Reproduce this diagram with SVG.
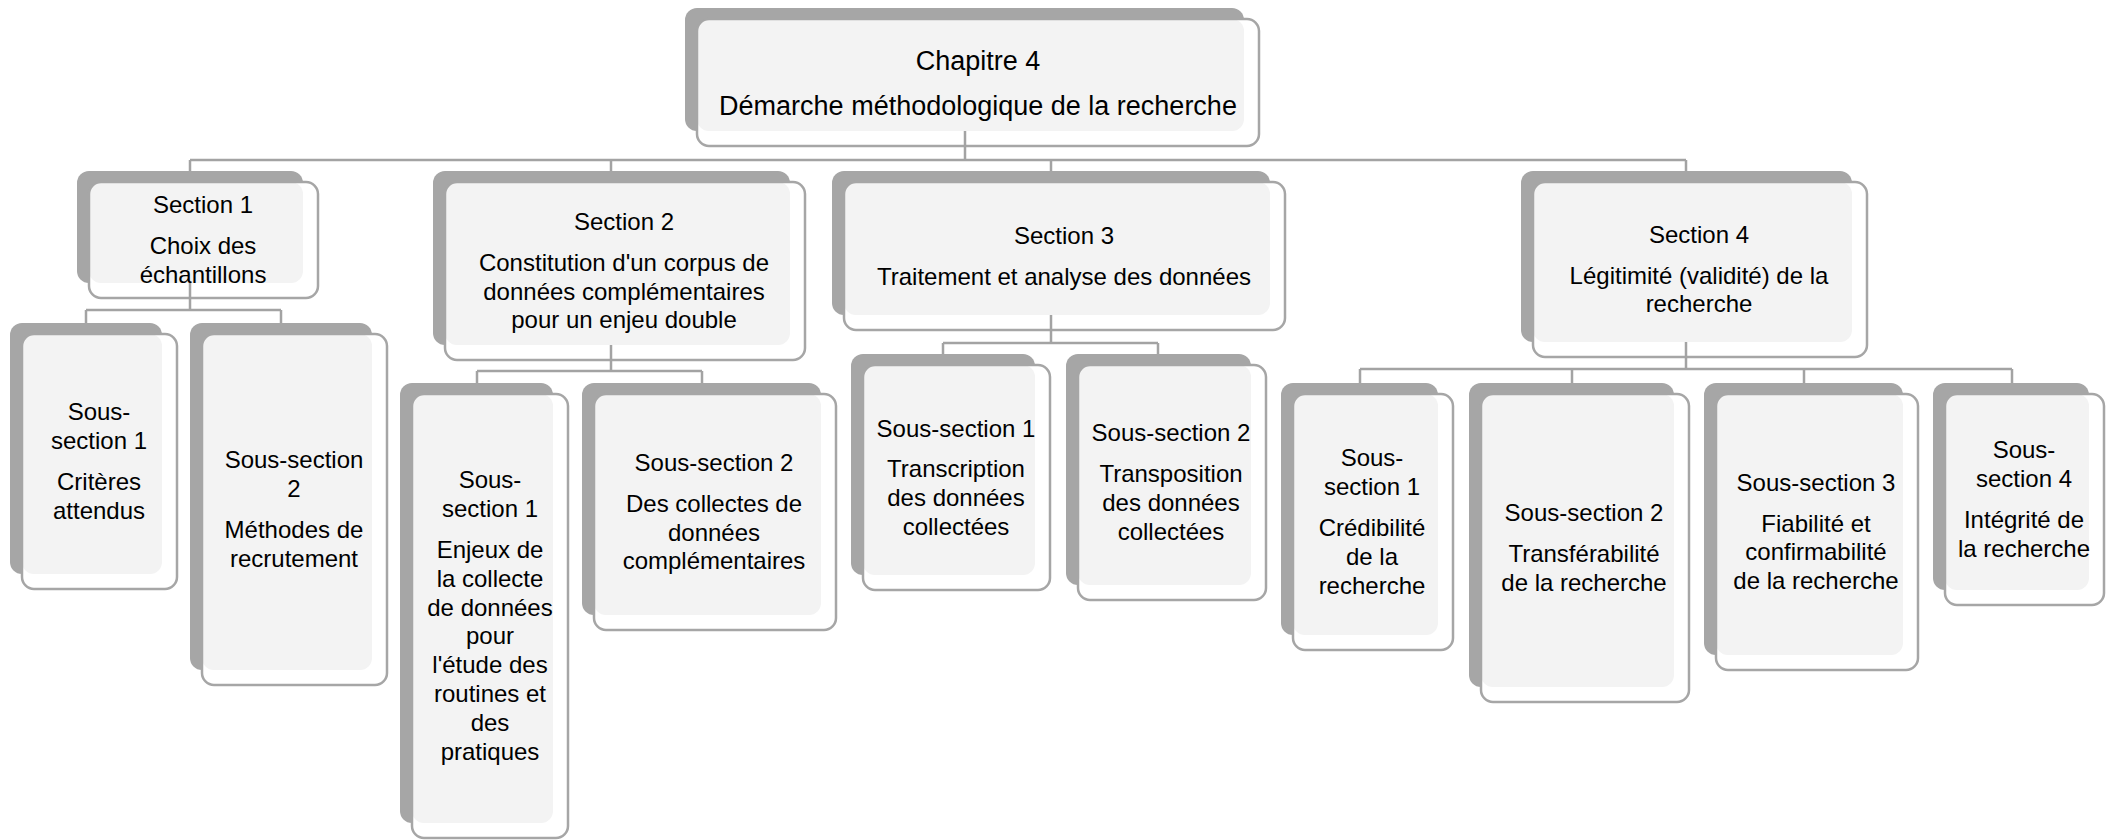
<svg xmlns="http://www.w3.org/2000/svg" width="2114" height="840" viewBox="0 0 2114 840">
  <style>
    .sh { fill: #a6a6a6; }
    .bg { fill: #ffffff; }
    .fl { fill: #f3f3f3; }
    .ol { fill: none; stroke: #a6a6a6; stroke-width: 2.5; }
    .cn { fill: none; stroke: #a3a3a3; stroke-width: 2.5; }
    text { font-family: "Liberation Sans", Arial, sans-serif; font-size: 24px; fill: #000; text-anchor: middle; }
    .big { font-size: 27px; }
  </style>
  <rect width="2114" height="840" fill="#ffffff"/>

  <!-- Chapter -->
  <g id="chapitre">
    <rect class="sh" x="685" y="8" width="559" height="123" rx="12"/>
    <rect class="bg" x="697" y="19" width="562" height="127" rx="12"/>
    <rect class="fl" x="697" y="19" width="547" height="112" rx="12"/>
    <rect class="ol" x="697" y="19" width="562" height="127" rx="12"/>
    <text class="big" x="978" y="69.5">Chapitre 4</text>
    <text class="big" x="978" y="114.5">Démarche méthodologique de la recherche</text>
  </g>

  <!-- Section 1 -->
  <g id="section1">
    <rect class="sh" x="77" y="171" width="226" height="112" rx="12"/>
    <rect class="bg" x="89" y="182" width="229" height="116" rx="12"/>
    <rect class="fl" x="89" y="182" width="214" height="101" rx="12"/>
    <rect class="ol" x="89" y="182" width="229" height="116" rx="12"/>
    <text x="203" y="213">Section 1</text>
    <text x="203" y="254">Choix des</text>
    <text x="203" y="283">échantillons</text>
  </g>
  <g id="s1-ss1">
    <rect class="sh" x="10" y="323" width="152" height="251" rx="12"/>
    <rect class="bg" x="22" y="334" width="155" height="255" rx="12"/>
    <rect class="fl" x="22" y="334" width="140" height="240" rx="12"/>
    <rect class="ol" x="22" y="334" width="155" height="255" rx="12"/>
    <text x="99" y="420">Sous-</text>
    <text x="99" y="449">section 1</text>
    <text x="99" y="490">Critères</text>
    <text x="99" y="519">attendus</text>
  </g>
  <g id="s1-ss2">
    <rect class="sh" x="190" y="323" width="182" height="347" rx="12"/>
    <rect class="bg" x="202" y="334" width="185" height="351" rx="12"/>
    <rect class="fl" x="202" y="334" width="170" height="336" rx="12"/>
    <rect class="ol" x="202" y="334" width="185" height="351" rx="12"/>
    <text x="294" y="468">Sous-section</text>
    <text x="294" y="497">2</text>
    <text x="294" y="538">Méthodes de</text>
    <text x="294" y="567">recrutement</text>
  </g>

  <!-- Section 2 -->
  <g id="section2">
    <rect class="sh" x="433" y="171" width="357" height="174" rx="12"/>
    <rect class="bg" x="445" y="182" width="360" height="178" rx="12"/>
    <rect class="fl" x="445" y="182" width="345" height="163" rx="12"/>
    <rect class="ol" x="445" y="182" width="360" height="178" rx="12"/>
    <text x="624" y="230">Section 2</text>
    <text x="624" y="271">Constitution d'un corpus de</text>
    <text x="624" y="300">données complémentaires</text>
    <text x="624" y="328">pour un enjeu double</text>
  </g>
  <g id="s2-ss1">
    <rect class="sh" x="400" y="383" width="153" height="440" rx="12"/>
    <rect class="bg" x="412" y="394" width="156" height="444" rx="12"/>
    <rect class="fl" x="412" y="394" width="141" height="429" rx="12"/>
    <rect class="ol" x="412" y="394" width="156" height="444" rx="12"/>
    <text x="490" y="488">Sous-</text>
    <text x="490" y="517">section 1</text>
    <text x="490" y="558">Enjeux de</text>
    <text x="490" y="587">la collecte</text>
    <text x="490" y="616">de données</text>
    <text x="490" y="644">pour</text>
    <text x="490" y="673">l'étude des</text>
    <text x="490" y="702">routines et</text>
    <text x="490" y="731">des</text>
    <text x="490" y="760">pratiques</text>
  </g>
  <g id="s2-ss2">
    <rect class="sh" x="582" y="383" width="239" height="232" rx="12"/>
    <rect class="bg" x="594" y="394" width="242" height="236" rx="12"/>
    <rect class="fl" x="594" y="394" width="227" height="221" rx="12"/>
    <rect class="ol" x="594" y="394" width="242" height="236" rx="12"/>
    <text x="714" y="471">Sous-section 2</text>
    <text x="714" y="512">Des collectes de</text>
    <text x="714" y="541">données</text>
    <text x="714" y="569">complémentaires</text>
  </g>

  <!-- Section 3 -->
  <g id="section3">
    <rect class="sh" x="832" y="171" width="438" height="144" rx="12"/>
    <rect class="bg" x="844" y="182" width="441" height="148" rx="12"/>
    <rect class="fl" x="844" y="182" width="426" height="133" rx="12"/>
    <rect class="ol" x="844" y="182" width="441" height="148" rx="12"/>
    <text x="1064" y="244">Section 3</text>
    <text x="1064" y="285">Traitement et analyse des données</text>
  </g>
  <g id="s3-ss1">
    <rect class="sh" x="851" y="354" width="184" height="221" rx="12"/>
    <rect class="bg" x="863" y="365" width="187" height="225" rx="12"/>
    <rect class="fl" x="863" y="365" width="172" height="210" rx="12"/>
    <rect class="ol" x="863" y="365" width="187" height="225" rx="12"/>
    <text x="956" y="437">Sous-section 1</text>
    <text x="956" y="477">Transcription</text>
    <text x="956" y="506">des données</text>
    <text x="956" y="535">collectées</text>
  </g>
  <g id="s3-ss2">
    <rect class="sh" x="1066" y="354" width="185" height="231" rx="12"/>
    <rect class="bg" x="1078" y="365" width="188" height="235" rx="12"/>
    <rect class="fl" x="1078" y="365" width="173" height="220" rx="12"/>
    <rect class="ol" x="1078" y="365" width="188" height="235" rx="12"/>
    <text x="1171" y="441">Sous-section 2</text>
    <text x="1171" y="482">Transposition</text>
    <text x="1171" y="511">des données</text>
    <text x="1171" y="540">collectées</text>
  </g>

  <!-- Section 4 -->
  <g id="section4">
    <rect class="sh" x="1521" y="171" width="331" height="171" rx="12"/>
    <rect class="bg" x="1533" y="182" width="334" height="175" rx="12"/>
    <rect class="fl" x="1533" y="182" width="319" height="160" rx="12"/>
    <rect class="ol" x="1533" y="182" width="334" height="175" rx="12"/>
    <text x="1699" y="243">Section 4</text>
    <text x="1699" y="284">Légitimité (validité) de la</text>
    <text x="1699" y="312">recherche</text>
  </g>
  <g id="s4-ss1">
    <rect class="sh" x="1281" y="383" width="157" height="252" rx="12"/>
    <rect class="bg" x="1293" y="394" width="160" height="256" rx="12"/>
    <rect class="fl" x="1293" y="394" width="145" height="241" rx="12"/>
    <rect class="ol" x="1293" y="394" width="160" height="256" rx="12"/>
    <text x="1372" y="466">Sous-</text>
    <text x="1372" y="495">section 1</text>
    <text x="1372" y="536">Crédibilité</text>
    <text x="1372" y="565">de la</text>
    <text x="1372" y="594">recherche</text>
  </g>
  <g id="s4-ss2">
    <rect class="sh" x="1469" y="383" width="205" height="304" rx="12"/>
    <rect class="bg" x="1481" y="394" width="208" height="308" rx="12"/>
    <rect class="fl" x="1481" y="394" width="193" height="293" rx="12"/>
    <rect class="ol" x="1481" y="394" width="208" height="308" rx="12"/>
    <text x="1584" y="521">Sous-section 2</text>
    <text x="1584" y="562">Transférabilité</text>
    <text x="1584" y="591">de la recherche</text>
  </g>
  <g id="s4-ss3">
    <rect class="sh" x="1704" y="383" width="199" height="272" rx="12"/>
    <rect class="bg" x="1716" y="394" width="202" height="276" rx="12"/>
    <rect class="fl" x="1716" y="394" width="187" height="261" rx="12"/>
    <rect class="ol" x="1716" y="394" width="202" height="276" rx="12"/>
    <text x="1816" y="491">Sous-section 3</text>
    <text x="1816" y="532">Fiabilité et</text>
    <text x="1816" y="560">confirmabilité</text>
    <text x="1816" y="589">de la recherche</text>
  </g>
  <g id="s4-ss4">
    <rect class="sh" x="1933" y="383" width="156" height="207" rx="12"/>
    <rect class="bg" x="1945" y="394" width="159" height="211" rx="12"/>
    <rect class="fl" x="1945" y="394" width="144" height="196" rx="12"/>
    <rect class="ol" x="1945" y="394" width="159" height="211" rx="12"/>
    <text x="2024" y="458">Sous-</text>
    <text x="2024" y="487">section 4</text>
    <text x="2024" y="528">Intégrité de</text>
    <text x="2024" y="557">la recherche</text>
  </g>

  <!-- Connectors: trunk from each parent, horizontal bus, drops to children -->
  <g id="connectors" class="cn">
    <path d="M965 131 V160 M190 160 H1686 M190 160 V171 M611 160 V171 M1051 160 V171 M1686 160 V171"/>
    <path d="M190 283 V310 M86 310 H281 M86 310 V323 M281 310 V323"/>
    <path d="M611 345 V371 M477 371 H702 M477 371 V383 M702 371 V383"/>
    <path d="M1051 315 V343 M943 343 H1158 M943 343 V354 M1158 343 V354"/>
    <path d="M1686 342 V369 M1360 369 H2012 M1360 369 V383 M1572 369 V383 M1804 369 V383 M2012 369 V383"/>
  </g>
</svg>
